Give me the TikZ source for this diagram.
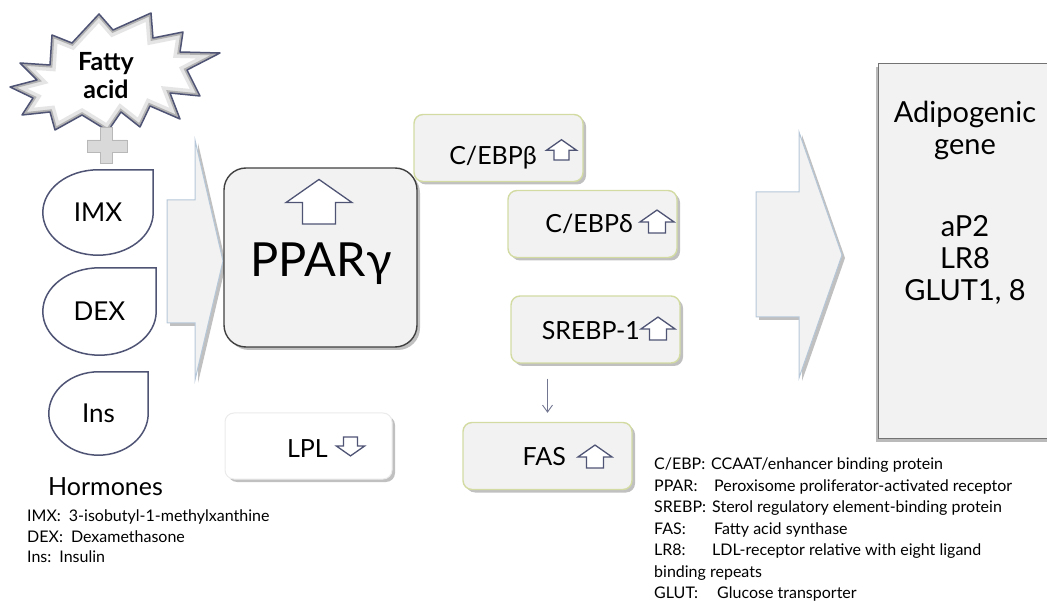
\documentclass[tikz,border=0pt]{standalone}
\usepackage{fontspec}
\setmainfont{Lato}
\usetikzlibrary{positioning,calc,shadows,arrows.meta}

\definecolor{panel}{HTML}{F2F2F2}
\definecolor{slate}{HTML}{4F5475}
\definecolor{olive}{HTML}{D3DBA3}
\definecolor{steel}{HTML}{B5C7D8}
\definecolor{shade}{HTML}{8C8C8C}

% outline of the fatty acid burst
\newcommand\burstpath{(10,-87) -- (37,-80) -- (20,-63) -- (50,-65) -- (52,-35) -- (72,-43) -- (99,-14) -- (113,-30) -- (151,-13) -- (153,-38) -- (183,-32) -- (180,-52) -- (220,-53) -- (187,-70) -- (200,-96) -- (170,-93) -- (180,-119) -- (150,-106) -- (140,-127) -- (121,-112) -- (108,-131) -- (82,-115) -- (55,-130) -- (50,-112) -- (22,-115) -- (33,-98) -- cycle}

\tikzset{
  softshadow/.style={drop shadow={shadow xshift=3pt,shadow yshift=-3pt,fill=shade,opacity=.55}},
  blockarrow/.style={draw=steel,fill=panel,line width=1pt,softshadow},
  pparbox/.style={draw=black!75,fill=panel,line width=1.4pt,rounded corners=22pt,softshadow},
  factorbox/.style={draw=olive,fill=panel,line width=1.4pt,rounded corners=9pt,minimum width=169pt,minimum height=67pt,softshadow},
  lplbox/.style={draw=black!8,fill=white,line width=1pt,rounded corners=9pt,minimum width=167pt,minimum height=66pt,softshadow},
  genebox/.style={draw=black!55,fill=panel,line width=1.2pt,drop shadow={shadow xshift=-3pt,shadow yshift=-3pt,fill=shade,opacity=.6}},
  hormone/.style={inner sep=0pt,font=\fontsize{26}{30}\selectfont},
  hormoneline/.style={draw=slate,line width=1.5pt},
  factortext/.style={inner sep=0pt,font=\fontsize{25}{28}\selectfont,anchor=base east},
  legend/.style={inner sep=0pt,align=left,anchor=north west,font=\fontsize{16}{21.5}\selectfont},
  arrowline/.style={draw=slate,fill=white,line width=1.3pt,line join=miter},
  uparr/.pic={\path[arrowline,scale=#1] (-0.5,0) -- (-0.5,0.65) -- (-1,0.65) -- (0,1.35) -- (1,0.65) -- (0.5,0.65) -- (0.5,0) -- cycle;},
  thinarrow/.style={draw=slate!80,line width=0.9pt,-{Straight Barb[length=7pt,width=10pt]}}
}

\begin{document}
\begin{tikzpicture}[x=1pt,y=1pt]
\useasboundingbox (0,0) rectangle (1047,-601);

% fatty acid burst and plus
\fill[white] \burstpath;
\begin{scope}
  \clip \burstpath;
  \draw[line width=12pt,black!10,line join=miter] \burstpath;
  \draw[line width=5pt,black!30,line join=miter] \burstpath;
\end{scope}
\draw[line width=1.5pt,slate,line join=round] \burstpath;
\node[inner sep=0pt,align=center,anchor=north,font=\fontsize{25}{28}\selectfont\bfseries] (fatty) at (106,-52) {Fatty\\acid};
\path[fill=black!15,draw=black!28,line width=0.8pt] (100,-127) -- (112,-127) -- (112,-140) -- (127,-140) -- (127,-152) -- (112,-152) -- (112,-163) -- (100,-163) -- (100,-152) -- (87,-152) -- (87,-140) -- (100,-140) -- cycle;

% hormones
\node[hormone,minimum width=110pt,minimum height=85pt] (imx) at (98,-212.5) {IMX};
\node[hormone,minimum width=113pt,minimum height=87pt] (dex) at (99.5,-311.5) {DEX};
\node[hormone,minimum width=99pt,minimum height=83pt] (ins) at (98.5,-413.5) {Ins};
\foreach \h in {imx,dex,ins}
  \draw[hormoneline] let \p1=($(\h.north east)-(\h.center)$) in
    (\h.north east) -- (\h.east) arc[start angle=0,end angle=-270,x radius=\x1,y radius=\y1] -- cycle;

% block arrows
\path[blockarrow] (167,-200) -- (195,-200) -- (195,-140) -- (223,-261) -- (195,-380) -- (195,-323) -- (167,-323) -- cycle;
\path[blockarrow] (756,-192) -- (799,-192) -- (799,-132) -- (842,-255) -- (799,-378) -- (799,-317) -- (756,-317) -- cycle;

% PPAR gamma
\node[pparbox,minimum width=193pt,minimum height=179pt] (pparg) at (320.5,-257.5) {};
\pic at (319,-224) {uparr=33};
\node[inner sep=0pt,font=\fontsize{47}{50}\selectfont,anchor=base] (ppargtext) at (321,-277) {PPARγ};

% factors
\node[factorbox] (cebpb) at (498.5,-148) {};
\node[factortext] (cebpbtext) at (537,-165) {C/EBPβ};
\pic at (561.5,-160) {uparr=15};
\node[factorbox] (cebpd) at (592.5,-224) {};
\node[factortext] (cebpdtext) at (633,-233) {C/EBPδ};
\pic at (657,-233) {uparr=17};
\node[factorbox] (srebp) at (595.5,-329.5) {};
\node[factortext] (srebptext) at (640,-340) {SREBP-1};
\pic at (658,-340) {uparr=17};
\node[factorbox] (fas) at (547.5,-456) {};
\node[factortext] (fastext) at (566,-465) {FAS};
\pic at (595,-468) {uparr=17};
\node[lplbox] (lpl) at (308.5,-446) {};
\node[factortext] (lpltext) at (328,-457) {LPL};
\pic[rotate=180] at (350.5,-437) {uparr=14};
\draw[thinarrow,shorten <=15pt,shorten >=9pt] (fas.north |- srebp.south) -- (fas.north);

% adipogenic genes
\node[genebox,minimum width=240pt,minimum height=375pt,anchor=north west] (genes) at (878,-63) {};
\node[inner sep=0pt,align=center,anchor=north,font=\fontsize{29}{32}\selectfont] (genetext) at (965,-101) {Adipogenic\\gene\\[50pt]aP2\\LR8\\GLUT1, 8};

% keys
\node[inner sep=0pt,anchor=base west,font=\fontsize{25}{28}\selectfont] (hormones) at (48,-495) {Hormones};
\node[legend,font=\fontsize{16}{20.5}\selectfont] (hormonekey) at (27,-510) {IMX:\hspace{8pt}3-isobutyl-1-methylxanthine\\DEX:\hspace{8pt}Dexamethasone\\Ins:\hspace{8pt}Insulin};
\node[legend] (genekey) at (654,-458) {\makebox[57pt][l]{C/EBP:}CCAAT/enhancer binding protein\\
  \makebox[60pt][l]{PPAR:}Peroxisome proliferator-activated receptor\\
  \makebox[58pt][l]{SREBP:}Sterol regulatory element-binding protein\\
  \makebox[60pt][l]{FAS:}Fatty acid synthase\\
  \makebox[58pt][l]{LR8:}LDL-receptor relative with eight ligand\\
  binding repeats\\
  \makebox[63pt][l]{GLUT:}Glucose transporter};
\end{tikzpicture}
\end{document}
